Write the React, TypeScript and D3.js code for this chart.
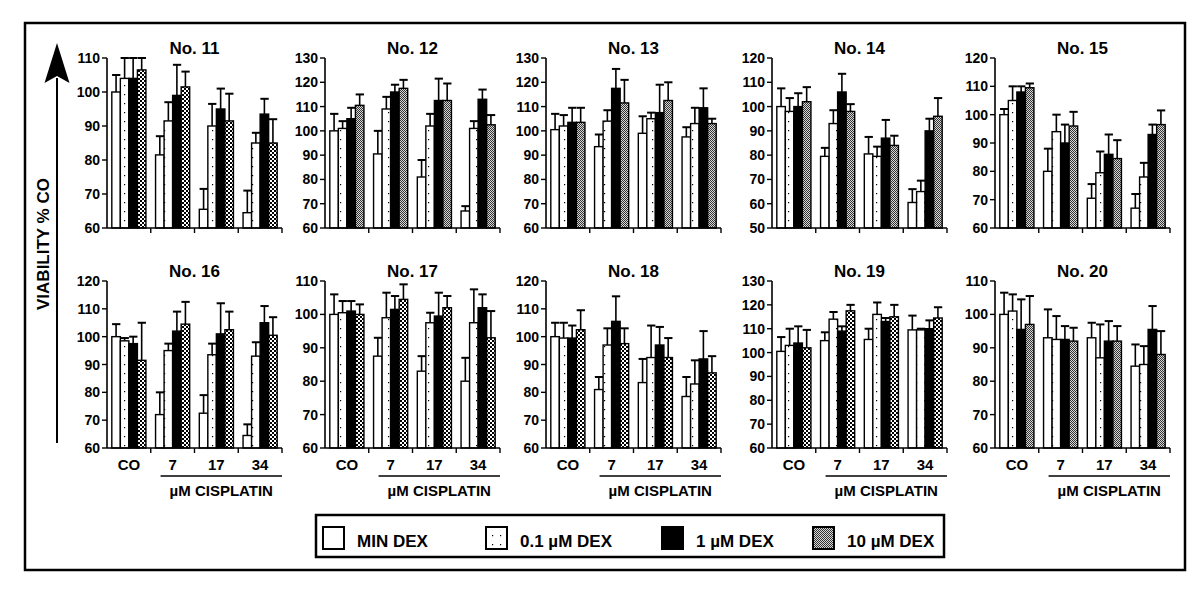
import React from 'react';
import * as d3 from 'd3';

// ---------- data ----------
const panelNames = ['No. 11', 'No. 12', 'No. 13', 'No. 14', 'No. 15', 'No. 16', 'No. 17', 'No. 18', 'No. 19', 'No. 20'];
const groups = ['CO', '7', '17', '34'];
const seriesNames = ['MIN DEX', '0.1 µM DEX', '1 µM DEX', '10 µM DEX'];
const yDomains: [number, number][] = [
  [60, 110], [60, 130], [60, 130], [50, 120], [60, 120],
  [60, 120], [60, 110], [60, 120], [60, 130], [60, 110],
];

// means [group][series], errors [group][series] (upper SD)
const no11Mean = [[100, 104, 104, 106.5], [81.5, 91.5, 99, 101.5], [65.5, 90, 95, 91.5], [64.5, 85, 93.5, 85]];
const no11Err = [[5, 6, 6, 3.5], [5.5, 5.5, 9, 4.5], [6, 6.5, 6, 8], [6.5, 3, 4.5, 7]];
const no12Mean = [[100, 101, 105, 110.5], [90.5, 109, 116, 117.5], [81, 102, 112.5, 112.5], [67, 101, 113, 102.5]];
const no12Err = [[7, 3, 4.5, 4.5], [9.5, 5, 3, 3.5], [7, 5, 9, 7], [2, 3, 4, 4]];
const no13Mean = [[100.5, 102, 103.5, 103.5], [93.5, 104, 117.5, 111.5], [99, 105, 107.5, 112.5], [97.5, 103, 109.5, 103]];
const no13Err = [[6.5, 4.5, 6, 6], [5, 4.5, 8, 9.5], [7, 2.5, 11.5, 7.5], [4, 6.5, 8, 2]];
const no14Mean = [[100, 98, 100, 102], [79.5, 93, 106, 98], [80.5, 79.5, 87, 84], [60.5, 65, 90, 96]];
const no14Err = [[7.5, 5.5, 5.5, 6], [3.5, 5.5, 7.5, 3], [7, 4, 7.5, 4], [5.5, 4.5, 5, 7.5]];
const no15Mean = [[100, 105, 108, 109.5], [80, 94, 90, 96], [70.5, 79.5, 86, 84.5], [67, 78, 93, 96.5]];
const no15Err = [[2, 5, 2, 1.5], [8, 6, 6.5, 5], [5, 7.5, 7, 6.5], [5, 5, 3.5, 5]];
const no16Mean = [[100, 98.5, 97.5, 91.5], [72, 95, 102, 104.5], [72.5, 93.5, 101, 102.5], [64.5, 93, 105, 100.5]];
const no16Err = [[4.5, 1, 2.5, 13.5], [8, 2.5, 7, 8], [6.5, 4, 11, 6.5], [4, 5, 6, 6.5]];
const no17Mean = [[100, 100.5, 101, 100], [87.5, 99, 101.5, 104.5], [83, 97.5, 99.5, 102], [80, 97.5, 102, 93]];
const no17Err = [[6, 3.5, 3, 3], [5.5, 7.5, 4, 4.5], [4.5, 3, 7, 3.5], [7, 10, 4, 8]];
const no18Mean = [[100, 99.5, 99.5, 102.5], [81, 97, 105.5, 97.5], [83.5, 92.5, 97, 92.5], [78.5, 83, 92, 87]];
const no18Err = [[5, 5.5, 4.5, 7], [4.5, 6, 9, 5.5], [8.5, 11.5, 6.5, 7], [7, 8.5, 10, 6]];
const no19Mean = [[100.5, 103, 104, 102], [105, 114, 109, 117.5], [105.5, 116, 113, 115], [109.5, 109.5, 110, 114.5]];
const no19Err = [[6, 7, 7, 7.5], [3.5, 3, 2, 2.5], [4.5, 5, 1.5, 5], [6, 0.5, 3.5, 4.5]];
const no20Mean = [[100, 101, 95.5, 97], [93, 92.5, 92.5, 92], [93, 87, 92, 92], [84.5, 85, 95.5, 88]];
const no20Err = [[6.5, 5, 9, 8.5], [8.5, 7, 4, 4], [4.5, 10, 6, 4.5], [6.5, 5.5, 7, 7]];

const allMeans = [no11Mean, no12Mean, no13Mean, no14Mean, no15Mean, no16Mean, no17Mean, no18Mean, no19Mean, no20Mean];
const allErrs = [no11Err, no12Err, no13Err, no14Err, no15Err, no16Err, no17Err, no18Err, no19Err, no20Err];

// ---------- layout ----------
const W = 1200;
const H = 597;
const PANEL_X = [107, 325, 546, 772, 995];
const PLOT_W = 175;
const ROW_TOP = [58, 281];
const ROW_BOT = [228, 448];
const FINE_PANELS = [1, 2, 3, 4, 9];
const FONT = "'Liberation Sans', Arial, Helvetica, sans-serif";

function fillFor(s: number, panel: number) {
  if (s === 0) return '#fff';
  if (s === 1) return 'url(#dots)';
  if (s === 2) return '#000';
  return FINE_PANELS.includes(panel) ? 'url(#fine)' : 'url(#checker)';
}

function Panel({ idx }: { idx: number }) {
  const col = idx % 5;
  const row = Math.floor(idx / 5);
  const x0 = PANEL_X[col];
  const x1 = x0 + PLOT_W;
  const dom = yDomains[idx];
  const y = d3.scaleLinear().domain(dom).range([ROW_BOT[row], ROW_TOP[row]]);
  const xg = d3.scaleBand<string>().domain(groups).range([x0, x1]).paddingInner(0.22).paddingOuter(0.11);
  const xs = d3.scaleBand<string>().domain(seriesNames).range([0, xg.bandwidth()]);
  const ticks = d3.range(dom[0], dom[1] + 0.01, 10);
  const means = allMeans[idx];
  const errs = allErrs[idx];
  const step = xg.step();
  const yb = ROW_BOT[row];
  return (
    <g>
      <text x={(x0 + x1) / 2} y={ROW_TOP[row] - 4} textAnchor="middle" fontSize={17} fontWeight="bold" fontFamily={FONT}>
        {panelNames[idx]}
      </text>
      {/* bars */}
      {groups.map((g, gi) =>
        seriesNames.map((s, si) => {
          const bx = (xg(g) as number) + (xs(s) as number);
          const bw = xs.bandwidth();
          const m = means[gi][si];
          const top = y(m);
          const etop = y(m + errs[gi][si]);
          const cx = bx + bw / 2;
          return (
            <g key={g + s}>
              <line x1={cx} x2={cx} y1={top} y2={etop} stroke="#000" strokeWidth={1.6} />
              <line x1={cx - 4} x2={cx + 4.3} y1={etop} y2={etop} stroke="#000" strokeWidth={2} />
              <rect x={bx} y={top} width={bw} height={yb - top} fill={fillFor(si, idx)} stroke="#000" strokeWidth={1.4} />
            </g>
          );
        })
      )}
      {/* y axis */}
      <line x1={x0} x2={x0} y1={y(dom[1])} y2={yb} stroke="#000" strokeWidth={1.6} />
      {ticks.map((t) => (
        <g key={t}>
          <line x1={x0 - 5} x2={x0} y1={y(t)} y2={y(t)} stroke="#000" strokeWidth={1.4} />
          <text x={x0 - 7} y={y(t)} dy="0.36em" textAnchor="end" fontSize={14} fontWeight="bold" fontFamily={FONT}>
            {t}
          </text>
        </g>
      ))}
      {/* x axis */}
      <line x1={x0} x2={x1} y1={yb} y2={yb} stroke="#000" strokeWidth={1.6} />
      {groups.map((g, gi) => (
        <line key={g} x1={x0 + step * (gi + 1)} x2={x0 + step * (gi + 1)} y1={yb} y2={yb + 5} stroke="#000" strokeWidth={1.4} />
      ))}
      {row === 1 && (
        <g fontFamily={FONT} fontWeight="bold" fontSize={15}>
          {groups.map((g) => (
            <text key={g} x={(xg(g) as number) + xg.bandwidth() / 2} y={yb + 22} textAnchor="middle">
              {g}
            </text>
          ))}
          <line x1={(xg('7') as number) + 5} x2={x1} y1={yb + 28} y2={yb + 28} stroke="#000" strokeWidth={1.6} />
          <text x={((xg('7') as number) + 5 + x1) / 2} y={yb + 48} textAnchor="middle">
            µM CISPLATIN
          </text>
        </g>
      )}
    </g>
  );
}

const legendX = [323, 486, 662, 813];

export default function App() {
  return (
    <svg width={W} height={H} style={{ position: 'absolute', left: 0, top: 0, background: '#fff' }}>
      <defs>
        <pattern id="dots" patternUnits="userSpaceOnUse" width={8} height={9}>
          <rect width={8} height={9} fill="#fff" />
          <rect x={4} y={4} width={1.2} height={1.2} fill="#000" />
        </pattern>
        <pattern id="checker" patternUnits="userSpaceOnUse" width={4} height={4}>
          <rect width={4} height={4} fill="#fff" />
          <rect x={0} y={0} width={2} height={2} fill="#000" />
          <rect x={2} y={2} width={2} height={2} fill="#000" />
        </pattern>
        <pattern id="fine" patternUnits="userSpaceOnUse" width={2} height={2}>
          <rect width={2} height={2} fill="#d8d8d8" />
          <rect x={0} y={0} width={1} height={1} fill="#333" />
          <rect x={1} y={1} width={1} height={1} fill="#333" />
        </pattern>
      </defs>
      <rect x={0} y={0} width={W} height={H} fill="#fff" />
      <rect x={25} y={23} width={1160} height={547} fill="none" stroke="#000" strokeWidth={2.5} />
      {/* y label + arrow */}
      <line x1={57} x2={57} y1={78} y2={443} stroke="#000" strokeWidth={2} />
      <path d="M57,43 L69.5,83 L57,76 L44.5,83 Z" fill="#000" />
      <text
        transform="translate(49,244) rotate(-90)"
        textAnchor="middle"
        fontSize={17}
        fontWeight="bold"
        fontFamily={FONT}
      >
        VIABILITY % CO
      </text>
      {panelNames.map((_, i) => (
        <Panel key={i} idx={i} />
      ))}
      {/* legend */}
      <rect x={316} y={515} width={628} height={42} fill="#fff" stroke="#000" strokeWidth={2.5} />
      {seriesNames.map((s, i) => (
        <g key={s}>
          <rect x={legendX[i]} y={527} width={21} height={22} fill={fillFor(i, 1)} stroke="#000" strokeWidth={2} />
          <text x={legendX[i] + 34} y={547} fontSize={17} fontWeight="bold" fontFamily={FONT}>
            {s}
          </text>
        </g>
      ))}
    </svg>
  );
}
